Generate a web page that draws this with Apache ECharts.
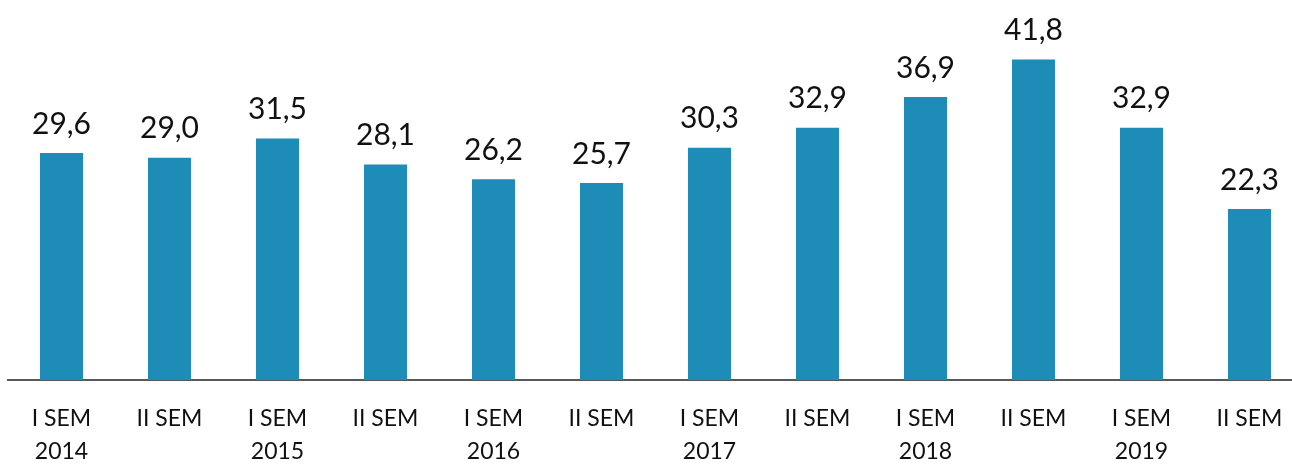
<!DOCTYPE html>
<html>
<head>
<meta charset="utf-8">
<script src="https://cdn.jsdelivr.net/npm/echarts@6/dist/echarts.min.js"></script>
<style>
  html, body { margin: 0; padding: 0; background: #fff; }
  #chart { width: 1292px; height: 465px; }
</style>
</head>
<body>
<div id="chart"></div>
<script>
const semesters = ['I SEM', 'II SEM', 'I SEM', 'II SEM', 'I SEM', 'II SEM', 'I SEM', 'II SEM', 'I SEM', 'II SEM', 'I SEM', 'II SEM']
const years = ['2014', '', '2015', '', '2016', '', '2017', '', '2018', '', '2019', '']
const values = [29.6, 29.0, 31.5, 28.1, 26.2, 25.7, 30.3, 32.9, 36.9, 41.8, 32.9, 22.3]

const categories = semesters.map((s, i) => (years[i] ? s + '\n' + years[i] : s))

const chart = echarts.init(document.getElementById('chart'))

chart.setOption({
  animation: false,
  grid: { left: 7.5, width: 1296, top: 35, height: 345, outerBoundsMode: 'none', containLabel: false },
  xAxis: {
    type: 'category',
    data: categories,
    axisTick: { show: false },
    axisLine: { lineStyle: { color: '#222', width: 1.5 } },
    axisLabel: {
      color: '#111',
      fontFamily: 'Lato',
      fontSize: 23,
      lineHeight: 33,
      margin: 22,
      interval: 0,
    },
  },
  yAxis: {
    type: 'value',
    min: 0,
    max: 45,
    show: false,
    splitLine: { show: false },
  },
  series: [
    {
      type: 'bar',
      data: values,
      barWidth: 43,
      itemStyle: { color: '#1d8db8' },
      label: {
        show: true,
        position: 'top',
        distance: 14,
        color: '#111',
        fontFamily: 'Lato',
        fontSize: 30,
        formatter: (p) => p.value.toFixed(1).replace('.', ','),
      },
    },
  ],
})
</script>
</body>
</html>
